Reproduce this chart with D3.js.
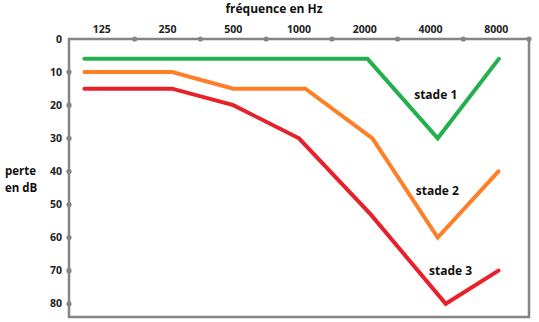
<!DOCTYPE html>
<html><head><meta charset="utf-8">
<script src="https://cdn.jsdelivr.net/npm/d3@7"></script>
<style>body{margin:0;background:#fff;}svg{display:block;}</style>
</head><body>
<svg id="c" width="539" height="322"></svg>
<script>
const freqLabels = ["125","250","500","1000","2000","4000","8000"];
const lossTicks = [0,10,20,30,40,50,60,70,80];
// stade 1 (green)
const stade1Freq = [104, 2060, 4320, 8230];
const stade1Loss = [6, 6, 30, 6];
// stade 2 (orange)
const stade2Freq = [104, 262, 500, 1070, 2170, 4320, 8200];
const stade2Loss = [10, 10, 15, 15, 30, 60, 40];
// stade 3 (red)
const stade3Freq = [104, 262, 500, 1000, 2130, 4700, 8200];
const stade3Loss = [15, 15, 20, 30, 53, 80, 70];
const seriesNames = ["stade 1","stade 2","stade 3"];
const labelPos = [{f:4230,v:17},{f:4300,v:46},{f:4950,v:70}];

const svg = d3.select("#c");
const L = 69, R = 529, T = 39, B = 317;
const font = "'Open Sans', 'DejaVu Sans', sans-serif";

const x = d3.scaleLog().base(2).domain([125/Math.SQRT2, 8000*Math.SQRT2]).range([L, R]);
const xb = d3.scaleBand().domain(freqLabels).range([L, R]);
const y = d3.scaleLinear().domain([0, 84]).range([T, B]);

// frame
const gray = "#858585";
svg.append("rect").attr("x", L).attr("y", T).attr("width", R-L).attr("height", B-T)
  .attr("fill","none").attr("stroke", gray).attr("stroke-width", 2.5);

// top axis: tick marks at band boundaries, labels at band centers
const topAx = svg.append("g");
const bounds = freqLabels.map(d => xb(d) + xb.bandwidth());
topAx.selectAll("circle").data(bounds).join("circle")
  .attr("cx", d => d).attr("cy", T).attr("r", 2.6).attr("fill", gray);
topAx.selectAll("text").data(freqLabels).join("text")
  .attr("x", d => xb(d) + xb.bandwidth()/2).attr("y", 33)
  .attr("text-anchor","middle").attr("font-family", font).attr("font-size", 10.5)
  .attr("font-weight","bold").attr("fill","#222").text(d => d);

// left axis
const leftAx = svg.append("g");
leftAx.selectAll("circle").data(lossTicks.filter(d => d > 0)).join("circle")
  .attr("cx", L).attr("cy", d => y(d)).attr("r", 2.6).attr("fill", gray);
leftAx.selectAll("text").data(lossTicks).join("text")
  .attr("x", 62).attr("y", d => y(d)).attr("dy","0.35em")
  .attr("text-anchor","end").attr("font-family", font).attr("font-size", 10.5)
  .attr("font-weight","bold").attr("fill","#222").text(d => d);

// titles
svg.append("text").attr("x", 274).attr("y", 13).attr("text-anchor","middle")
  .attr("font-family", font).attr("font-size", 12).attr("font-weight","bold")
  .attr("fill","#111").text("fréquence en Hz");
svg.append("text").attr("x", 5).attr("y", 175)
  .attr("font-family", font).attr("font-size", 11.5).attr("font-weight","bold")
  .attr("fill","#111").text("perte");
svg.append("text").attr("x", 5).attr("y", 192)
  .attr("font-family", font).attr("font-size", 11.5).attr("font-weight","bold")
  .attr("fill","#111").text("en dB");

// lines
const series = [
  {f: stade1Freq, v: stade1Loss, c: "#22b14c"},
  {f: stade2Freq, v: stade2Loss, c: "#ff7f27"},
  {f: stade3Freq, v: stade3Loss, c: "#e8202a"}
];
const line = d3.line().x(d => x(d[0])).y(d => y(d[1]));
series.forEach(s => {
  svg.append("path").datum(s.f.map((f,i) => [f, s.v[i]]))
    .attr("d", line).attr("fill","none").attr("stroke", s.c)
    .attr("stroke-width", 4).attr("stroke-linejoin","miter").attr("stroke-linecap","round");
});

// series labels
svg.selectAll("text.lab").data(seriesNames).join("text").attr("class","lab")
  .attr("x", (d,i) => x(labelPos[i].f)).attr("y", (d,i) => y(labelPos[i].v)).attr("dy","0.35em")
  .attr("text-anchor","middle").attr("font-family", font).attr("font-size", 12)
  .attr("font-weight","bold").attr("fill","#111").text(d => d);
</script>
</body></html>
